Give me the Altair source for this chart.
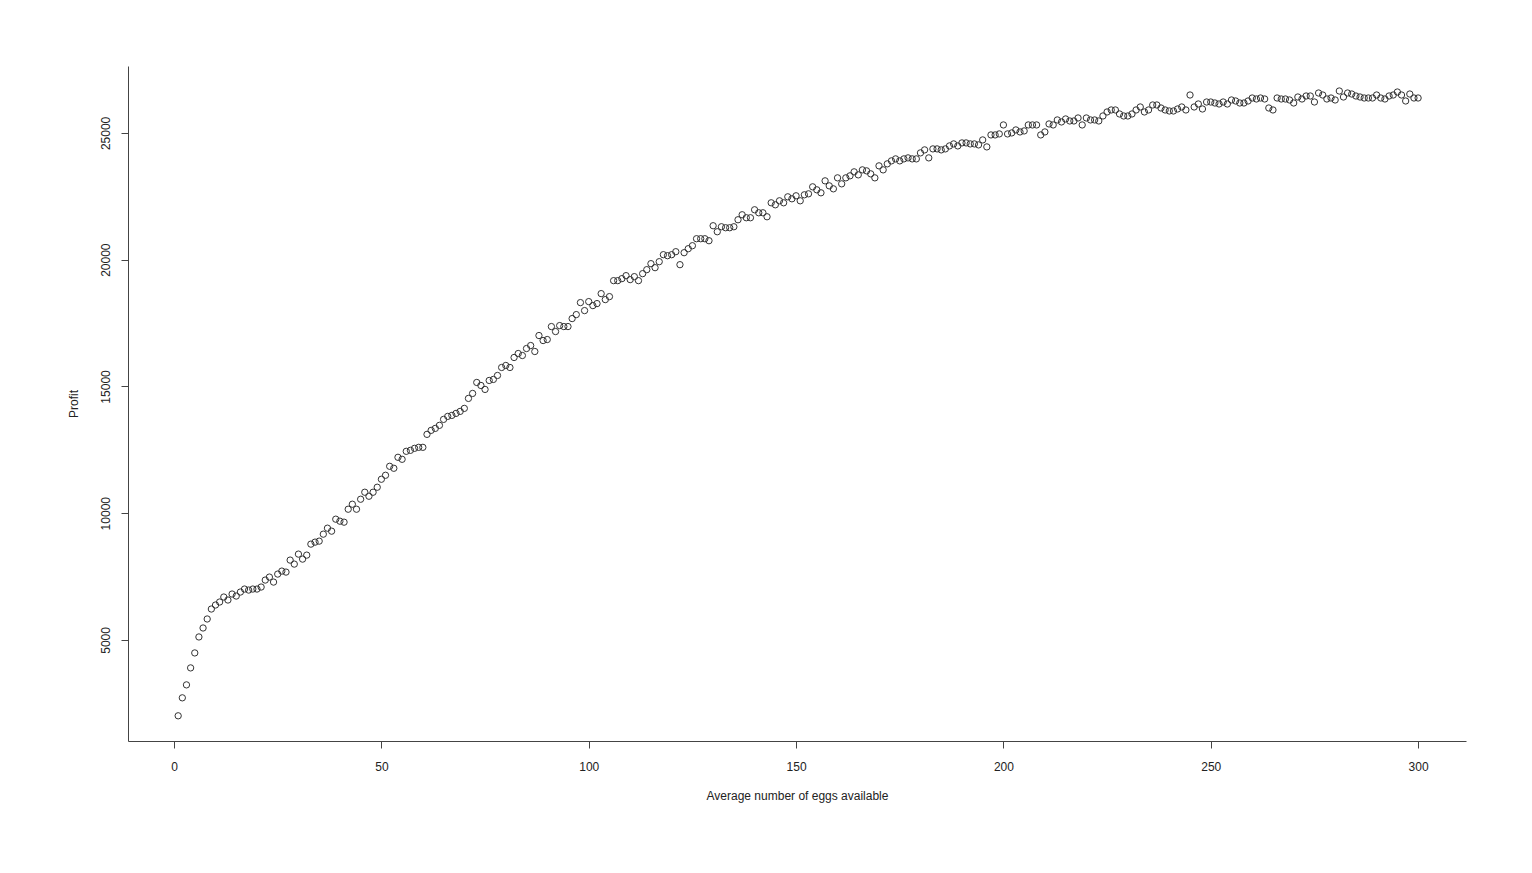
import altair as alt
import pandas as pd

eggs = list(range(1, 301))
profit = [
    2008, 2717, 3228, 3898, 4488, 5118, 5472, 5827, 6220, 6378,
    6496, 6693, 6575, 6811, 6732, 6890, 7008, 6968, 7008, 7008,
    7087, 7362, 7480, 7283, 7598, 7716, 7677, 8150, 7992, 8386,
    8189, 8346, 8780, 8858, 8898, 9173, 9409, 9291, 9764, 9685,
    9646, 10157, 10354, 10157, 10551, 10827, 10669, 10827, 11024, 11339,
    11496, 11850, 11772, 12205, 12126, 12441, 12480, 12559, 12598, 12598,
    13110, 13268, 13346, 13465, 13701, 13819, 13858, 13937, 14016, 14134,
    14528, 14724, 15157, 15039, 14882, 15236, 15276, 15433, 15748, 15827,
    15748, 16142, 16299, 16220, 16496, 16614, 16378, 17008, 16811, 16850,
    17362, 17165, 17401, 17362, 17362, 17677, 17834, 18307, 17992, 18346,
    18189, 18268, 18661, 18425, 18543, 19173, 19173, 19252, 19370, 19213,
    19331, 19173, 19449, 19606, 19843, 19685, 19921, 20197, 20157, 20197,
    20315, 19803, 20276, 20433, 20551, 20827, 20827, 20827, 20748, 21339,
    21102, 21299, 21260, 21260, 21299, 21575, 21772, 21654, 21654, 21969,
    21850, 21850, 21693, 22244, 22165, 22323, 22244, 22480, 22402, 22520,
    22323, 22559, 22598, 22874, 22756, 22638, 23110, 22913, 22795, 23228,
    22992, 23228, 23307, 23465, 23346, 23543, 23504, 23386, 23228, 23701,
    23543, 23780, 23898, 23976, 23898, 23976, 24016, 23976, 23976, 24213,
    24331, 24016, 24370, 24370, 24331, 24370, 24488, 24567, 24488, 24606,
    24606, 24567, 24567, 24528, 24724, 24449, 24921, 24921, 24961, 25315,
    24961, 25000, 25118, 25039, 25079, 25315, 25315, 25315, 24921, 25039,
    25354, 25315, 25512, 25433, 25551, 25472, 25472, 25590, 25315, 25590,
    25512, 25512, 25472, 25669, 25827, 25906, 25906, 25748, 25669, 25669,
    25748, 25906, 26024, 25827, 25906, 26102, 26102, 25984, 25906, 25866,
    25866, 25945, 26024, 25906, 26496, 26024, 26142, 25945, 26220, 26220,
    26181, 26142, 26220, 26142, 26300, 26260, 26181, 26181, 26260, 26378,
    26339, 26378, 26339, 25984, 25906, 26378, 26339, 26339, 26300, 26181,
    26417, 26339, 26457, 26457, 26220, 26575, 26496, 26339, 26378, 26300,
    26654, 26417, 26575, 26535, 26457, 26417, 26378, 26378, 26378, 26496,
    26378, 26339, 26457, 26496, 26614, 26496, 26260, 26535, 26378, 26378,
]
x_ticks = [0, 50, 100, 150, 200, 250, 300]
y_ticks = [5000, 10000, 15000, 20000, 25000]

df = pd.DataFrame({"eggs": eggs, "profit": profit})

FONT = "Liberation Sans"

chart = (
    alt.Chart(df)
    .mark_point(shape="circle", filled=False, size=40, strokeWidth=1, color="#333333", opacity=1)
    .encode(
        x=alt.X(
            "eggs:Q",
            scale=alt.Scale(domain=[-11.1, 311.55], nice=False, zero=False),
            axis=alt.Axis(
                values=x_ticks,
                format="d",
                title="Average number of eggs available",
                grid=False,
                tickSize=7,
                labelPadding=13,
                titlePadding=18,
            ),
        ),
        y=alt.Y(
            "profit:Q",
            scale=alt.Scale(domain=[1014, 27640], nice=False, zero=False),
            axis=alt.Axis(
                values=y_ticks,
                format="d",
                title="Profit",
                grid=False,
                tickSize=7,
                labelAngle=270,
                labelAlign="center",
                labelBaseline="bottom",
                labelPadding=9,
                titlePadding=19,
            ),
        ),
    )
    .properties(
        width=1338,
        height=675,
        autosize=alt.AutoSizeParams(type="none"),
        padding={"left": 120, "top": 58, "right": 50, "bottom": 120},
    )
    .configure_view(stroke=None)
    .configure_axis(
        domainColor="#444444",
        tickColor="#444444",
        labelColor="#222222",
        titleColor="#222222",
        labelFont=FONT,
        titleFont=FONT,
        labelFontSize=12,
        titleFontSize=12,
        titleFontWeight="normal",
        domainWidth=1,
        tickWidth=1,
    )
)

chart.save("out.html", embed_options={"renderer": "svg", "actions": False})
